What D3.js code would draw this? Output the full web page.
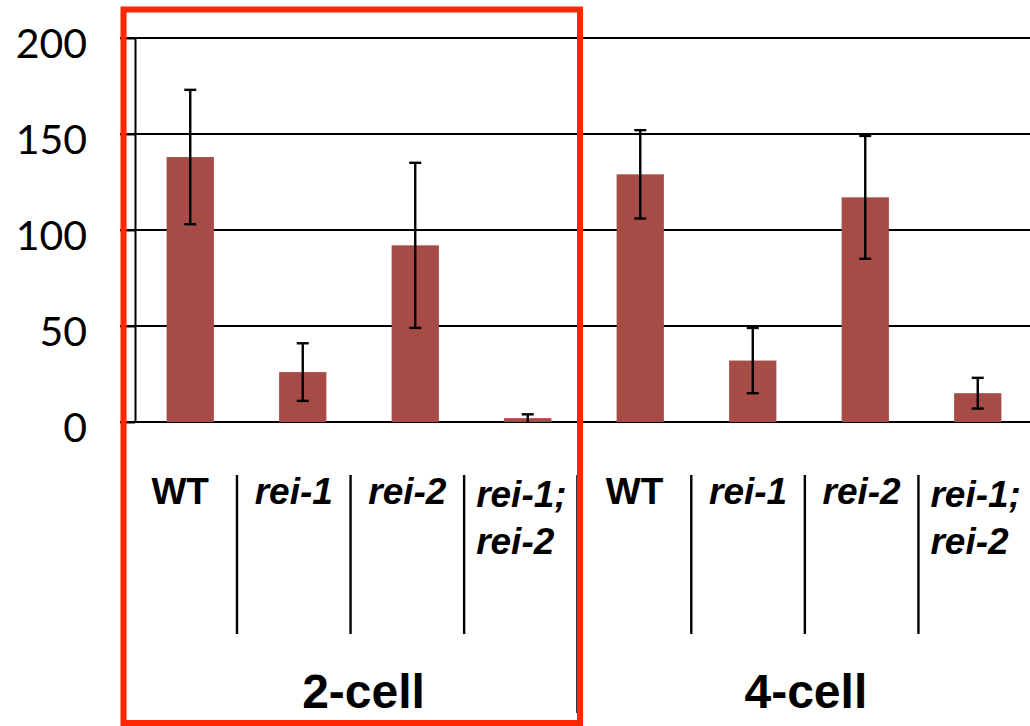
<!DOCTYPE html>
<html>
<head>
<meta charset="utf-8">
<script src="https://cdn.jsdelivr.net/npm/d3@7"></script>
<style>
  html, body { margin: 0; padding: 0; background: #fff; }
  svg { display: block; }
</style>
</head>
<body>
<svg id="svg" width="1030" height="726"></svg>
<script>
//Data
const STAGES = ["2-cell", "4-cell"];
const GENOTYPES = ["WT", "rei-1", "rei-2", "rei-1;|rei-2"];
const MEANS_2CELL = [138, 26, 92, 2];
const ERRORS_2CELL = [35, 15, 43, 2];
const MEANS_4CELL = [129, 32, 117, 15];
const ERRORS_4CELL = [23, 17, 32, 8];
const Y_TICKS = [0, 50, 100, 150, 200];

//Layout
const SVG_WIDTH = 1030;
const BAR_COLOR = "#a64b45";
const HIGHLIGHT_COLOR = "#ff2600";
const LABEL_FONT = "'Liberation Sans', Arial, sans-serif";

//Build flat rows
let ROWS = [];
STAGES.forEach((stage, s) => {
    let means = s === 0 ? MEANS_2CELL : MEANS_4CELL;
    let errors = s === 0 ? ERRORS_2CELL : ERRORS_4CELL;
    GENOTYPES.forEach((genotype, g) => {
        ROWS.push({ key: stage + "/" + genotype, stage: stage, genotype: genotype, mean: means[g], err: errors[g] });
    });
});

let svg = d3.select("#svg");

//Scales
let y_scale = d3.scaleLinear().domain([0, 200]).range([422, 38]);
let x_scale = d3.scaleBand()
    .domain(ROWS.map(r => r.key))
    .range([134, 1034])
    .paddingInner(0.58)
    .paddingOuter(0.29);
let table_scale = d3.scaleBand()
    .domain(ROWS.map(r => r.key))
    .range([123.4, 1032])
    .padding(0);

//Gridlines
svg.append("g")
    .selectAll("line")
    .data(Y_TICKS)
    .enter().append("line")
    .attr("x1", 120)
    .attr("x2", SVG_WIDTH)
    .attr("y1", d => y_scale(d))
    .attr("y2", d => y_scale(d))
    .attr("stroke", "#000")
    .attr("stroke-width", 2);

//Y axis
let y_axis = d3.axisLeft(y_scale).tickValues(Y_TICKS).tickSizeInner(15).tickSizeOuter(0).tickPadding(33);
let axis_g = svg.append("g").attr("transform", "translate(135, 0)").call(y_axis);
axis_g.select(".domain").attr("stroke", "#000").attr("stroke-width", 2);
axis_g.selectAll(".tick line").attr("stroke", "#000").attr("stroke-width", 2);
axis_g.selectAll(".tick text")
    .attr("font-family", "Lato, 'Open Sans', sans-serif")
    .attr("font-size", 41)
    .attr("fill", "#000")
    .attr("dy", 19);

//Bars
svg.append("g")
    .selectAll("rect")
    .data(ROWS)
    .enter().append("rect")
    .attr("x", d => x_scale(d.key))
    .attr("width", x_scale.bandwidth())
    .attr("y", d => y_scale(d.mean))
    .attr("height", d => y_scale(0) - y_scale(d.mean))
    .attr("fill", BAR_COLOR);

//Error bars
let err_g = svg.append("g").attr("stroke", "#000").attr("stroke-width", 2.4);
ROWS.forEach(d => {
    let cx = x_scale(d.key) + x_scale.bandwidth() / 2;
    let top = y_scale(d.mean + d.err);
    let bottom = y_scale(Math.max(0, d.mean - d.err));
    err_g.append("line").attr("x1", cx).attr("x2", cx).attr("y1", top).attr("y2", bottom);
    err_g.append("line").attr("x1", cx - 6).attr("x2", cx + 6).attr("y1", top).attr("y2", top);
    if (d.mean - d.err > 0)
        err_g.append("line").attr("x1", cx - 6).attr("x2", cx + 6).attr("y1", bottom).attr("y2", bottom);
});

//Table separators
let sep_g = svg.append("g").attr("stroke", "#000");
ROWS.forEach((d, i) => {
    if (i === 0) return;
    let x = table_scale(d.key);
    let is_group = i % GENOTYPES.length === 0;
    sep_g.append("line")
        .attr("x1", x).attr("x2", x)
        .attr("y1", 475)
        .attr("y2", is_group ? 713 : 634)
        .attr("stroke-width", is_group ? 3 : 2.4);
});

//Genotype labels
let label_g = svg.append("g")
    .attr("font-family", LABEL_FONT)
    .attr("font-weight", "bold")
    .attr("font-size", 37)
    .attr("fill", "#000");
ROWS.forEach(d => {
    let left = table_scale(d.key);
    let center = left + table_scale.bandwidth() / 2;
    let lines = d.genotype.split("|");
    if (lines.length === 1) {
        label_g.append("text")
            .attr("x", center)
            .attr("y", 504)
            .attr("text-anchor", "middle")
            .attr("font-style", d.genotype === "WT" ? "normal" : "italic")
            .text(d.genotype);
    } else {
        let t = label_g.append("text")
            .attr("font-style", "italic")
            .attr("text-anchor", "start");
        lines.forEach((line, k) => {
            t.append("tspan")
                .attr("x", left + 12)
                .attr("y", 507 + k * 47)
                .text(line);
        });
    }
});

//Stage labels
STAGES.forEach((stage, s) => {
    let first = table_scale(stage + "/" + GENOTYPES[0]);
    let last = table_scale(stage + "/" + GENOTYPES[GENOTYPES.length - 1]) + table_scale.bandwidth();
    svg.append("text")
        .attr("x", (first + last) / 2 + (s === 0 ? 13 : 1))
        .attr("y", 708)
        .attr("text-anchor", "middle")
        .attr("font-family", LABEL_FONT)
        .attr("font-weight", "bold")
        .attr("font-size", 48)
        .attr("fill", "#000")
        .text(stage);
});

//Highlight box around 2-cell group
svg.append("rect")
    .attr("x", 123.5)
    .attr("y", 9.5)
    .attr("width", 580 - 123.5)
    .attr("height", 723 - 9.5)
    .attr("fill", "none")
    .attr("stroke", HIGHLIGHT_COLOR)
    .attr("stroke-width", 6);
</script>
</body>
</html>
